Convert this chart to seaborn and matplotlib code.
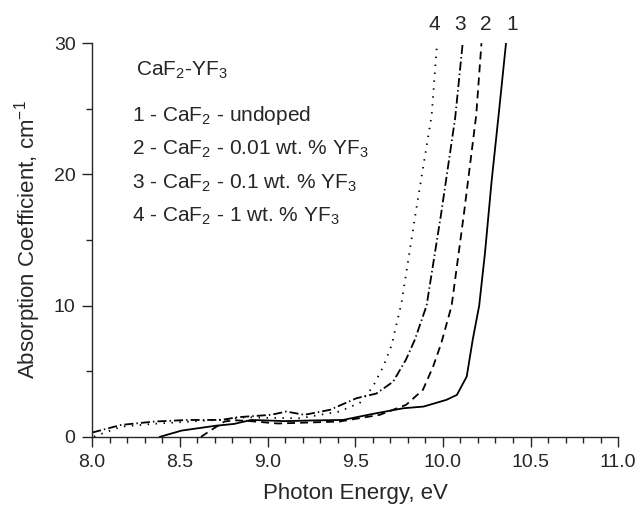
import pandas as pd
import matplotlib.pyplot as plt
import seaborn as sns
from matplotlib.ticker import MultipleLocator

sns.set_style("ticks")
plt.rcParams['font.family'] = ['Liberation Sans', 'DejaVu Sans']
plt.rcParams['mathtext.default'] = 'regular'

# curve 1 - undoped
e1 = [8.385, 8.51, 8.70, 8.81, 8.907, 9.0, 9.097, 9.25, 9.43, 9.60, 9.774, 9.89, 10.02,
      10.08, 10.136, 10.17, 10.207, 10.24, 10.278, 10.32, 10.36]
a1 = [0.0, 0.48, 0.84, 0.99, 1.29, 1.25, 1.2, 1.25, 1.29, 1.75, 2.18, 2.31, 2.82,
      3.2, 4.6, 7.39, 10.0, 14.0, 19.5, 24.8, 30.0]
# curve 2 - 0.01 wt. %
e2 = [8.62, 8.68, 8.755, 8.81, 8.9, 9.06, 9.41, 9.64, 9.79, 9.886, 9.944, 9.99, 10.05,
      10.12, 10.19, 10.22]
a2 = [0.0, 0.53, 1.17, 1.27, 1.2, 1.02, 1.17, 1.68, 2.44, 3.58, 5.35, 7.1, 10.0,
      17.0, 24.5, 30.0]
# curve 3 - 0.1 wt. %
e3 = [8.0, 8.165, 8.356, 8.546, 8.736, 8.83, 9.02, 9.107, 9.21, 9.356, 9.508, 9.62,
      9.716, 9.79, 9.84, 9.907, 9.99, 10.07, 10.113]
a3 = [0.33, 0.91, 1.17, 1.29, 1.29, 1.5, 1.68, 1.93, 1.68, 2.06, 2.95, 3.3,
      4.2, 5.9, 7.4, 10.0, 17.0, 24.3, 30.0]
# curve 4 - 1 wt. %
e4 = [8.01, 8.165, 8.356, 8.766, 8.88, 9.0, 9.185, 9.41, 9.527, 9.60, 9.66, 9.708,
      9.764, 9.85, 9.936, 9.965]
a4 = [0.02, 0.78, 1.0, 1.34, 1.5, 1.45, 1.42, 1.93, 2.6, 3.8, 5.36, 7.0,
      10.2, 17.5, 24.5, 29.7]

curve_ids = ['1', '2', '3', '4']
curve_styles = ['-', (0, (4.4, 2.8)), (0, (5, 1.7, 0.8, 1.7)), (0, (0.8, 3.6))]
legend_title = 'CaF$_2$-YF$_3$'
legend_lines = ['1 - CaF$_2$ - undoped',
                '2 - CaF$_2$ - 0.01 wt. % YF$_3$',
                '3 - CaF$_2$ - 0.1 wt. % YF$_3$',
                '4 - CaF$_2$ - 1 wt. % YF$_3$']
label_x = [10.398, 10.246, 10.098, 9.951]

fig = plt.figure(figsize=(6.4, 5.08), dpi=100)
ax = fig.add_axes([0.144, 0.14, 0.822, 0.775])

for e, a, ls in zip([e1, e2, e3, e4], [a1, a2, a3, a4], curve_styles):
    df = pd.DataFrame({'E': e, 'A': a})
    sns.lineplot(data=df, x='E', y='A', ax=ax, color='black', lw=1.3,
                 linestyle=ls, estimator=None, sort=False)

ax.set_xlim(8.0, 11.0)
ax.set_ylim(0, 30)
ax.xaxis.set_major_locator(MultipleLocator(0.5))
ax.xaxis.set_minor_locator(MultipleLocator(0.1))
ax.yaxis.set_major_locator(MultipleLocator(10))
ax.yaxis.set_minor_locator(MultipleLocator(5))
ax.xaxis.set_major_formatter(plt.FuncFormatter(lambda v, p: f"{v:.1f}"))
ax.tick_params(which='major', length=7, width=1, labelsize=14, direction='out', pad=5)
ax.tick_params(which='minor', length=4.5, width=1, direction='out')
for s in ['top', 'right']:
    ax.spines[s].set_visible(False)
for s in ['left', 'bottom']:
    ax.spines[s].set_linewidth(1.0)

ax.set_xlabel('Photon Energy, eV', fontsize=16, labelpad=9)
ax.set_ylabel('Absorption Coefficient, cm$^{-1}$', fontsize=16, labelpad=8)

ax.text(0.083, 0.917, legend_title, transform=ax.transAxes, fontsize=15, va='baseline')
for i, t in enumerate(legend_lines):
    ax.text(0.0755, 0.803 - i * 0.0857, t, transform=ax.transAxes, fontsize=15, va='baseline')

# curve labels above the plot
for lx, cid in zip(label_x, curve_ids):
    ax.text(lx, 31.0, cid, fontsize=15, ha='center', va='baseline', clip_on=False)

fig.savefig('out.png', dpi=100)
